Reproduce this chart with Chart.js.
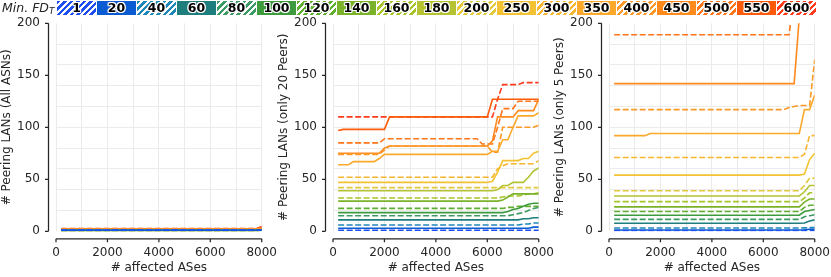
<!DOCTYPE html>
<html lang="en">
<head>
    <meta charset="UTF-8">
    <title>Peering LANs vs affected ASes</title>
    <style>
        * {
            margin: 0;
            padding: 0;
            box-sizing: border-box;
        }

        body {
            width: 831px;
            height: 277px;
            background: #fff;
            position: relative;
            overflow: hidden;
            font-family: 'DejaVu Sans', sans-serif;
        }

        .panel {
            position: absolute;
            top: 0;
            width: 277px;
            height: 277px;
        }

        .legend {
            position: absolute;
            top: 0;
            left: 0;
            width: 831px;
            height: 16px;
            z-index: 2;
        }

        .legend .title {
            position: absolute;
            left: 2px;
            top: 0;
            font-style: italic;
            font-size: 12.5px;
            line-height: 15px;
            color: #262626;
        }

        .legend .title sub {
            font-size: 9px;
            vertical-align: -2px;
        }

        .legend .item {
            position: absolute;
            top: 1px;
            width: 39px;
            height: 14px;
            font-size: 12.5px;
            font-weight: bold;
            line-height: 14px;
            text-align: center;
            color: #000;
            text-shadow: 1px 0 0 #fff, -1px 0 0 #fff, 0 1px 0 #fff, 0 -1px 0 #fff,
                         1px 1px 0 #fff, -1px -1px 0 #fff, 1px -1px 0 #fff, -1px 1px 0 #fff;
        }
    </style>
    <script src="https://cdn.jsdelivr.net/npm/chart.js@4.4.1/dist/chart.umd.min.js"></script>
</head>
<body>
    <div class="legend" id="legend">
        <span class="title">Min. FD<sub>T</sub></span>
    </div>
    <div class="panel" style="left:0px"><canvas id="chartAll" width="277" height="277"></canvas></div>
    <div class="panel" style="left:277px"><canvas id="chart20" width="277" height="277"></canvas></div>
    <div class="panel" style="left:553px"><canvas id="chart5" width="277" height="277"></canvas></div>

    <script>
        // thresholds (legend) and their colours; even index = dashed line
        const thresholds = ['1', '20', '40', '60', '80', '100', '120', '140', '160', '180',
                            '200', '250', '300', '350', '400', '450', '500', '550', '600'];
        const lineColors = ['#1f4ef0', '#0b5bd3', '#1f86b8', '#1e7d7d', '#3c9a63', '#3d9b3d',
                            '#5fae2e', '#7ab22a', '#a6c52b', '#b5c333', '#e3c93a', '#f3c232',
                            '#f8b52e', '#fba82b', '#fd9a27', '#fe891d', '#ff7518', '#fb5b0b', '#ff3b1c'];

        const xTicks = [0, 1000, 2000, 3000, 4000, 5000, 6000, 7000, 8000];
        const yTicks = [0, 20, 40, 50, 60, 80, 100, 120, 140, 150, 160, 180, 200];

        // panel 1: all ASNs
        const xAll = [200, 7800, 8000];
        const lansAll = [
            [1.2, 1.2, 1.3],    // 1
            [1, 1, 1.1],        // 20
            [0.9, 0.9, 1.1],    // 40
            [0.8, 0.8, 1],      // 60
            [0.8, 0.8, 1],      // 80
            [0.8, 0.8, 1],      // 100
            [0.8, 0.8, 1],      // 120
            [0.8, 0.8, 1],      // 140
            [0.8, 0.8, 1],      // 160
            [0.8, 0.8, 1],      // 180
            [0.8, 0.8, 1],      // 200
            [0.8, 0.8, 1],      // 250
            [0.8, 0.8, 1],      // 300
            [0.8, 0.8, 1],      // 350
            [2.2, 2.2, 2.6],    // 400
            [2.3, 2.3, 3],      // 450
            [2.4, 2.4, 3.3],    // 500
            [2.5, 2.5, 3.8],    // 550
            [2.6, 2.6, 4.5]     // 600
        ];

        // panel 2: only 20 peers
        const x20 = [200, 400, 600, 800, 1600, 1800, 2000, 2200, 5600, 5800, 6000,
                     6200, 6400, 6600, 6800, 7000, 7200, 7400, 7600, 7800, 8000];
        const lans20 = [
            [1, 1, 1, 1, 1, 1, 1, 1, 1, 1, 1, 1, 1, 1, 1, 1, 1, 1, 1, 1, 1],
            [3, 3, 3, 3, 3, 3, 3, 3, 3, 3, 3, 3, 3, 3, 3, 3, 3, 3, 3, 4, 4],
            [6, 6, 6, 6, 6, 6, 6, 6, 6, 6, 6, 6, 6, 6, 6, 6, 6, 7, 7, 8, 8],
            [11, 11, 11, 11, 11, 11, 11, 11, 11, 11, 11, 11, 11, 11, 11, 11, 11, 12, 12, 13, 13],
            [15, 15, 15, 15, 15, 15, 15, 15, 15, 15, 15, 15, 15, 15, 15, 16, 17, 18, 20, 22, 23],
            [18, 18, 18, 18, 18, 18, 18, 18, 18, 18, 18, 18, 18, 18, 19, 21, 22, 24, 26, 27, 27],
            [22, 22, 22, 22, 22, 22, 22, 22, 22, 22, 22, 22, 22, 22, 23, 23, 24, 24, 24, 24, 24],
            [29, 29, 29, 29, 29, 29, 29, 29, 29, 29, 29, 29, 29, 30, 33, 36, 36, 36, 36, 36, 36],
            [32, 32, 32, 32, 32, 32, 32, 32, 32, 32, 32, 32, 32, 33, 34, 34, 34, 35, 36, 36, 37],
            [39, 39, 39, 39, 39, 39, 39, 39, 39, 39, 39, 39, 40, 44, 44, 47, 47, 47, 52, 58, 61],
            [42, 42, 42, 42, 42, 42, 42, 42, 42, 42, 42, 42, 42, 42, 42, 42, 42, 42, 42, 42, 42],
            [47, 47, 47, 47, 47, 47, 47, 47, 47, 47, 47, 48, 57, 68, 68, 68, 68, 70, 70, 75, 77],
            [52, 52, 52, 52, 52, 52, 52, 52, 52, 52, 52, 52, 60, 63, 65, 65, 65, 65, 65, 65, 68],
            [64, 64, 64, 67, 67, 70, 74, 74, 74, 74, 74, 77, 77, 88, 88, 100, 111, 111, 111, 111, 114],
            [74, 74, 74, 74, 74, 74, 78, 82, 82, 82, 82, 76, 76, 100, 100, 100, 100, 100, 100, 100, 102],
            [75, 75, 75, 75, 75, 75, 80, 82, 82, 82, 82, 87, 110, 110, 110, 110, 116, 116, 116, 116, 127],
            [85, 85, 85, 85, 85, 85, 89, 89, 89, 84, 84, 84, 100, 118, 118, 118, 125, 125, 125, 125, 125],
            [97, 98, 98, 98, 98, 98, 98, 110, 110, 110, 110, 127, 127, 127, 127, 127, 127, 127, 127, 127, 127],
            [110, 110, 110, 110, 110, 110, 110, 110, 110, 110, 110, 110, 127, 141, 141, 141, 141, 143, 143, 143, 143]
        ];

        // panel 3: only 5 peers
        const x5 = [200, 1400, 1600, 6800, 7000, 7200, 7400, 7600, 7800, 8000];
        const lans5 = [
            [0.5, 0.5, 0.5, 0.5, 0.5, 0.5, 0.5, 0.5, 0.5, 0.5],
            [1.3, 1.3, 1.3, 1.3, 1.3, 1.3, 1.3, 1.5, 2, 2],
            [3.2, 3.2, 3.2, 3.2, 3.2, 3.2, 3.2, 3.3, 3.5, 3.5],
            [7.7, 7.7, 7.7, 7.7, 7.7, 7.7, 7.7, 8, 10, 11],
            [11.5, 11.5, 11.5, 11.5, 11.5, 11.5, 11.5, 14, 15, 16],
            [15.5, 15.5, 15.5, 15.5, 15.5, 15.5, 15.5, 19, 20, 21],
            [19, 19, 19, 19, 19, 19, 19, 23, 25, 25],
            [23.5, 23.5, 23.5, 23.5, 23.5, 23.5, 23.5, 28, 31, 31],
            [28.5, 28.5, 28.5, 28.5, 28.5, 28.5, 28.5, 32, 37, 37],
            [34, 34, 34, 34, 34, 34, 34, 38, 44, 44],
            [39, 39, 39, 39, 39, 39, 39, 44, 51, 51],
            [54, 54, 54, 54, 54, 54, 54, 55, 69, 75],
            [71, 71, 71, 71, 71, 71, 71, 74, 92, 92],
            [92, 92, 94, 94, 94, 94, 94, 117, 117, 131],
            [117, 117, 117, 117, 119, 120, 121, 121, 121, 165],
            [142, 142, 142, 142, 142, 142, 206, 230, 230, 230],
            [189, 189, 189, 189, 189, 226, 240, 240, 240, 240],
            [230, 230, 230, 230, 230, 240, 250, 260, 260, 260],
            [250, 250, 250, 250, 250, 260, 270, 280, 280, 280]
        ];

        // legend boxes
        const legendEl = document.getElementById('legend');
        thresholds.forEach((t, i) => {
            const box = document.createElement('span');
            box.className = 'item';
            box.style.left = (57 + i * 40) + 'px';
            const c = lineColors[i];
            box.style.background = i % 2 === 0
                ? `repeating-linear-gradient(135deg, ${c} 0px, ${c} 2.8px, #fff 2.8px, #fff 4.6px)`
                : c;
            box.textContent = t;
            legendEl.appendChild(box);
        });

        const textColor = '#262626';
        const gridColor = '#ebebeb';
        const font = { family: 'DejaVu Sans', size: 12 };
        const clear = 'rgba(0,0,0,0)';

        // offset spines with outward ticks (seaborn despine(offset) look)
        const offsetSpines = {
            id: 'offsetSpines',
            afterDraw(chart) {
                const { ctx, chartArea, scales: { x, y } } = chart;
                const off = 7.5;
                const lx = chartArea.left - off;
                const by = chartArea.bottom + off;
                ctx.save();
                ctx.strokeStyle = textColor;
                ctx.lineWidth = 1.25;
                ctx.beginPath();
                ctx.moveTo(lx, y.getPixelForValue(0));
                ctx.lineTo(lx, y.getPixelForValue(200));
                yTicks.filter(v => v % 50 === 0).forEach(v => {
                    const p = y.getPixelForValue(v);
                    ctx.moveTo(lx, p);
                    ctx.lineTo(lx - 3.5, p);
                });
                ctx.moveTo(x.getPixelForValue(0), by);
                ctx.lineTo(x.getPixelForValue(8000), by);
                xTicks.filter(v => v % 2000 === 0).forEach(v => {
                    const p = x.getPixelForValue(v);
                    ctx.moveTo(p, by);
                    ctx.lineTo(p, by + 3.5);
                });
                ctx.stroke();
                ctx.restore();
            }
        };

        function makeChart(id, xs, rows, yTitle) {
            const datasets = rows.map((row, i) => ({
                label: thresholds[i],
                data: row.map((v, j) => ({ x: xs[j], y: v })),
                borderColor: lineColors[i],
                borderWidth: 1.6,
                borderDash: i % 2 === 0 ? [6, 2.5] : [],
                pointRadius: 0,
                fill: false,
                tension: 0
            }));

            return new Chart(document.getElementById(id), {
                type: 'line',
                data: { datasets },
                plugins: [offsetSpines],
                options: {
                    responsive: false,
                    animation: false,
                    devicePixelRatio: 1,
                    layout: { padding: { top: 23.3, right: 14.7, bottom: 0, left: 0 } },
                    plugins: { legend: { display: false }, tooltip: { enabled: false } },
                    scales: {
                        x: {
                            type: 'linear',
                            min: 0,
                            max: 8000,
                            afterBuildTicks: s => { s.ticks = xTicks.map(v => ({ value: v })); },
                            afterFit: s => { s.height = 45.7; },
                            ticks: {
                                autoSkip: false,
                                maxRotation: 0,
                                padding: 0,
                                color: textColor,
                                font,
                                callback: v => (v % 2000 === 0 ? String(v) : '')
                            },
                            // invisible tick marks only push the labels down
                            grid: { color: gridColor, lineWidth: 1, drawTicks: true, tickLength: 14.5, tickColor: clear },
                            border: { display: false },
                            title: {
                                display: true,
                                text: '# affected ASes',
                                color: textColor,
                                font,
                                padding: { top: 0, bottom: 1.5 }
                            }
                        },
                        y: {
                            min: 0,
                            max: 200,
                            afterBuildTicks: s => { s.ticks = yTicks.map(v => ({ value: v })); },
                            afterFit: s => { s.width = 56; },
                            ticks: {
                                autoSkip: false,
                                padding: 0,
                                color: textColor,
                                font,
                                callback: v => (v % 50 === 0 ? String(v) : '')
                            },
                            grid: {
                                color: c => (c.tick && c.tick.value % 20 === 0 && c.tick.value > 0 && c.tick.value < 200)
                                    ? gridColor : clear,
                                lineWidth: 1,
                                drawTicks: true,
                                tickLength: 16,
                                tickColor: clear
                            },
                            border: { display: false },
                            title: {
                                display: true,
                                text: yTitle,
                                color: textColor,
                                font,
                                padding: { top: 0, bottom: 0 }
                            }
                        }
                    }
                }
            });
        }

        makeChart('chartAll', xAll, lansAll, '# Peering LANs (All ASNs)');
        makeChart('chart20', x20, lans20, '# Peering LANs (only 20 Peers)');
        makeChart('chart5', x5, lans5, '# Peering LANs (only 5 Peers)');
    </script>
</body>
</html>
